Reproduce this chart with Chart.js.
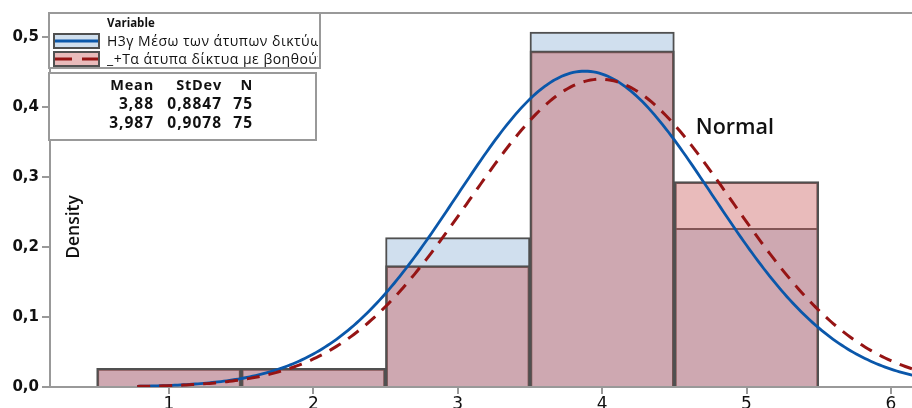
<!DOCTYPE html>
<html>
<head>
<meta charset="utf-8">
<script src="https://cdn.jsdelivr.net/npm/chart.js@4"></script>
<style>
  html, body { margin: 0; padding: 0; background: #fff; }
  #wrap { width: 912px; height: 408px; }
</style>
</head>
<body>
<div id="wrap"><canvas id="c" width="912" height="408"></canvas></div>
<script>
// Histogram bins (response categories) and their densities per variable
const binCenters = [1, 2, 3, 4, 5];
const densityH3 = [0.0267, 0.0267, 0.2133, 0.5067, 0.2267];
const densityTa = [0.0267, 0.0267, 0.1733, 0.4800, 0.2933];

// Variable names and fitted normal parameters
const seriesNames = ['Η3γ Μέσω των άτυπων δικτύων', '_+Τα άτυπα δίκτυα με βοηθούν'];
const means = [3.88, 3.987];
const stdevs = [0.8847, 0.9078];
const counts = [75, 75];

// Axis ticks
const xTicks = [1, 2, 3, 4, 5, 6];
const yTicks = [0, 0.1, 0.2, 0.3, 0.4, 0.5];

// Range over which the fitted curves are traced
const curveFrom = 0.78, curveTo = 6.3, curveStep = 0.02;

const BLUE = '#0A57AA';
const RED = '#961414';
const BLUE_FILL = '#D0DFEE';
const PINK_FILL = 'rgba(203,93,93,0.42)';
const EDGE = '#505050';
const AXIS = '#999999';

function comma(v) { return String(v).replace('.', ','); }

// Normal density fitted with the stated mean and standard deviation
function normalCurve(mu, sd) {
  const pts = [];
  const k = 1 / (sd * Math.sqrt(2 * Math.PI));
  for (let x = curveFrom; x <= curveTo + 1e-9; x += curveStep) {
    const z = (x - mu) / sd;
    pts.push({ x: x, y: k * Math.exp(-0.5 * z * z) });
  }
  return pts;
}

const decor = {
  id: 'decor',
  afterDatasetsDraw(chart) {
    const { ctx, chartArea, scales } = chart;
    ctx.save();

    // frame line along the top
    ctx.strokeStyle = AXIS;
    ctx.lineWidth = 2;
    ctx.beginPath();
    ctx.moveTo(48, chartArea.top);
    ctx.lineTo(912, chartArea.top);
    ctx.stroke();

    // legend box
    ctx.fillStyle = '#fff';
    ctx.fillRect(49, 13, 271, 55);
    ctx.strokeRect(49, 13, 271, 55);

    ctx.fillStyle = '#111';
    ctx.textBaseline = 'middle';
    ctx.textAlign = 'left';
    ctx.font = 'bold 11.5px "Open Sans"';
    ctx.fillText('Variable', 107, 24);

    // swatches
    ctx.fillStyle = BLUE_FILL;
    ctx.fillRect(54, 34, 45, 14);
    ctx.strokeStyle = EDGE;
    ctx.lineWidth = 2;
    ctx.strokeRect(54, 34, 45, 14);
    ctx.strokeStyle = BLUE;
    ctx.lineWidth = 3;
    ctx.beginPath(); ctx.moveTo(55, 41); ctx.lineTo(98, 41); ctx.stroke();

    ctx.fillStyle = '#E9BBBB';
    ctx.fillRect(54, 52, 45, 14);
    ctx.strokeStyle = EDGE;
    ctx.lineWidth = 2;
    ctx.strokeRect(54, 52, 45, 14);
    ctx.strokeStyle = RED;
    ctx.lineWidth = 3;
    ctx.beginPath();
    ctx.moveTo(55, 59); ctx.lineTo(72, 59);
    ctx.moveTo(82, 59); ctx.lineTo(98, 59);
    ctx.stroke();

    ctx.save();
    ctx.beginPath(); ctx.rect(100, 14, 218, 53); ctx.clip();
    ctx.fillStyle = '#111';
    ctx.font = '500 14px "Open Sans"';
    ctx.letterSpacing = '0.5px';
    ctx.fillText(seriesNames[0], 107, 42);
    ctx.fillText(seriesNames[1], 107, 60);
    ctx.restore();

    // statistics box
    ctx.fillStyle = '#fff';
    ctx.strokeStyle = AXIS;
    ctx.lineWidth = 2;
    ctx.fillRect(49, 73, 267, 67);
    ctx.strokeRect(49, 73, 267, 67);

    ctx.fillStyle = '#111';
    ctx.textAlign = 'right';
    ctx.letterSpacing = '0.8px';
    ctx.font = 'bold 14.5px "Open Sans"';
    ctx.fillText('Mean', 154, 86);
    ctx.fillText('StDev', 222, 86);
    ctx.fillText('N', 253, 86);
    ctx.letterSpacing = '1px';
    ctx.font = 'bold 15.5px "Open Sans"';
    const rowsY = [105, 124];
    for (let i = 0; i < means.length; i++) {
      ctx.fillText(comma(means[i]), 154, rowsY[i]);
      ctx.fillText(comma(stdevs[i]), 222, rowsY[i]);
      ctx.fillText(String(counts[i]), 253, rowsY[i]);
    }
    ctx.letterSpacing = '0px';

    // y axis title
    ctx.save();
    ctx.translate(74, 227);
    ctx.rotate(-Math.PI / 2);
    ctx.textAlign = 'center';
    ctx.font = '600 17.5px "Open Sans"';
    ctx.fillText('Density', 0, 0);
    ctx.restore();

    // curve annotation
    ctx.textAlign = 'center';
    ctx.textBaseline = 'alphabetic';
    ctx.font = '600 21.5px "Open Sans"';
    ctx.fillText('Normal', scales.x.getPixelForValue(4.92), scales.y.getPixelForValue(0.361));

    ctx.restore();
  }
};

new Chart(document.getElementById('c'), {
  type: 'bar',
  data: {
    datasets: [
      {
        type: 'bar', label: seriesNames[0],
        data: binCenters.map((x, i) => ({ x: x, y: densityH3[i] })),
        backgroundColor: BLUE_FILL, borderColor: EDGE, borderWidth: 2,
        grouped: false, barPercentage: 1, categoryPercentage: 1, order: 4
      },
      {
        type: 'bar', label: seriesNames[1],
        data: binCenters.map((x, i) => ({ x: x, y: densityTa[i] })),
        backgroundColor: PINK_FILL, borderColor: EDGE, borderWidth: 2,
        grouped: false, barPercentage: 1, categoryPercentage: 1, order: 3
      },
      {
        type: 'line', label: seriesNames[0],
        data: normalCurve(means[0], stdevs[0]),
        borderColor: BLUE, borderWidth: 2.8, pointRadius: 0, tension: 0, order: 2
      },
      {
        type: 'line', label: seriesNames[1],
        data: normalCurve(means[1], stdevs[1]),
        borderColor: RED, borderWidth: 3, borderDash: [13, 9], pointRadius: 0, tension: 0, order: 1
      }
    ]
  },
  options: {
    responsive: false,
    animation: false,
    events: [],
    layout: { padding: { top: 13, left: 0, right: 0, bottom: 0 } },
    plugins: { legend: { display: false }, tooltip: { enabled: false } },
    scales: {
      x: {
        type: 'linear', min: 0.176, max: 6.146, offset: false,
        afterFit(s) { s.height = 21; },
        afterBuildTicks(s) { s.ticks = xTicks.map(v => ({ value: v })); },
        ticks: {
          color: '#111', padding: 0,
          font: { family: '"DejaVu Sans"', size: 17 },
          callback: v => String(v)
        },
        grid: { offset: false, drawOnChartArea: false, color: AXIS, lineWidth: 2, tickLength: 7 },
        border: { color: AXIS, width: 2 }
      },
      y: {
        min: 0, max: 0.534,
        afterFit(s) { s.width = 50; },
        afterBuildTicks(s) { s.ticks = yTicks.map(v => ({ value: v })); },
        ticks: {
          color: '#111', padding: 3,
          font: { family: '"DejaVu Sans"', size: 15, weight: 'bold' },
          callback: v => v.toFixed(1).replace('.', ',')
        },
        grid: { drawOnChartArea: false, color: AXIS, lineWidth: 2, tickLength: 8 },
        border: { color: AXIS, width: 2 }
      }
    }
  },
  plugins: [decor]
});
</script>
</body>
</html>
